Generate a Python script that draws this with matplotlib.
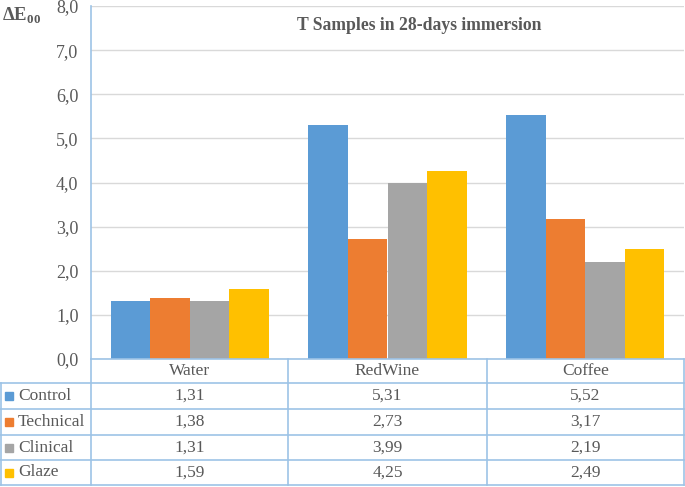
import matplotlib
matplotlib.use("Agg")
import matplotlib.pyplot as plt
import numpy as np

categories = ["Water", "RedWine", "Coffee"]
series = ["Control", "Technical", "Clinical", "Glaze"]
control = [1.31, 5.31, 5.52]
technical = [1.38, 2.73, 3.17]
clinical = [1.31, 3.99, 2.19]
glaze = [1.59, 4.25, 2.49]
values = [control, technical, clinical, glaze]
colors = ["#5B9BD5", "#ED7D31", "#A5A5A5", "#FFC000"]
yticks = [0, 1, 2, 3, 4, 5, 6, 7, 8]
title = "T Samples in 28-days immersion"

plt.rcParams['font.family'] = ['Liberation Serif', 'DejaVu Serif']
plt.rcParams['mathtext.fontset'] = 'custom'
plt.rcParams['mathtext.rm'] = 'Liberation Serif'
plt.rcParams['mathtext.bf'] = 'Liberation Serif:bold'

W, H = 685, 487
fig = plt.figure(figsize=(W / 100, H / 100), dpi=100)
txt = "#595959"
line_c = "#9DC3E6"
fs = 12.5

# plot area in pixels
px0, px1 = 91, 684
py_top, py_bot = 6, 359
ax = fig.add_axes([px0 / W, 1 - py_bot / H, (px1 - px0) / W, (py_bot - py_top) / H])
x = np.arange(len(categories))
bw = 0.2
for i, (s, v, c) in enumerate(zip(series, values, colors)):
    ax.bar(x + (i - 1.5) * bw, v, width=bw, color=c, zorder=3, linewidth=0)
ax.set_xlim(-0.5, len(categories) - 0.5)
ax.set_ylim(0, 8)
ax.set_yticks(yticks)
ax.set_yticklabels([f"{t:.1f}".replace(".", ",") for t in yticks], fontsize=13, color=txt)
ax.tick_params(axis='y', length=0, pad=9)
ax.set_xticks([])
ax.grid(axis='y', color="#D9D9D9", linewidth=1, zorder=0)
for sp in ["top", "right", "bottom"]:
    ax.spines[sp].set_visible(False)
ax.spines["left"].set_color(line_c)
ax.spines["left"].set_linewidth(1.2)
fig.text(419 / W, 1 - 25 / H, title, fontsize=12.7, fontweight='bold', color=txt,
         ha='center', va='center')

# overlay for table (pixel coords)
tab = fig.add_axes([0, 0, 1, 1], facecolor='none')
tab.set_xlim(0, W)
tab.set_ylim(H, 0)
tab.axis('off')
col_x = [0, 91, 288, 487, 684]
row_y = [359, 383, 409, 435, 460, 485]
lw = 1.2
tab.plot([col_x[1], col_x[-1]], [row_y[0], row_y[0]], color=line_c, lw=lw)
for yy in row_y[1:]:
    tab.plot([col_x[0], col_x[-1]], [yy, yy], color=line_c, lw=lw)
tab.plot([col_x[0] + 0.6, col_x[0] + 0.6], [row_y[1], row_y[-1]], color=line_c, lw=lw)
for xx in col_x[1:]:
    tab.plot([xx, xx], [row_y[0], row_y[-1]], color=line_c, lw=lw)
for j, cat in enumerate(categories):
    tab.text((col_x[j + 1] + col_x[j + 2]) / 2, (row_y[0] + row_y[1]) / 2, cat,
             fontsize=fs, color=txt, ha='center', va='center')
for i, (s, v, c) in enumerate(zip(series, values, colors)):
    yc = (row_y[i + 1] + row_y[i + 2]) / 2
    tab.add_patch(plt.Rectangle((5, yc - 4), 8, 8, color=c))
    tab.text(18, yc, s, fontsize=fs, color=txt, ha='left', va='center')
    for j, val in enumerate(v):
        tab.text((col_x[j + 1] + col_x[j + 2]) / 2, yc, f"{val:.2f}".replace(".", ","),
                 fontsize=fs, color=txt, ha='center', va='center')

fig.text(2 / W, 1 - 16 / H, r"$\mathbf{\Delta E}_{\mathbf{00}}$", fontsize=13.5, color=txt,
         ha='left', va='center')

fig.savefig("out.png", dpi=100)
